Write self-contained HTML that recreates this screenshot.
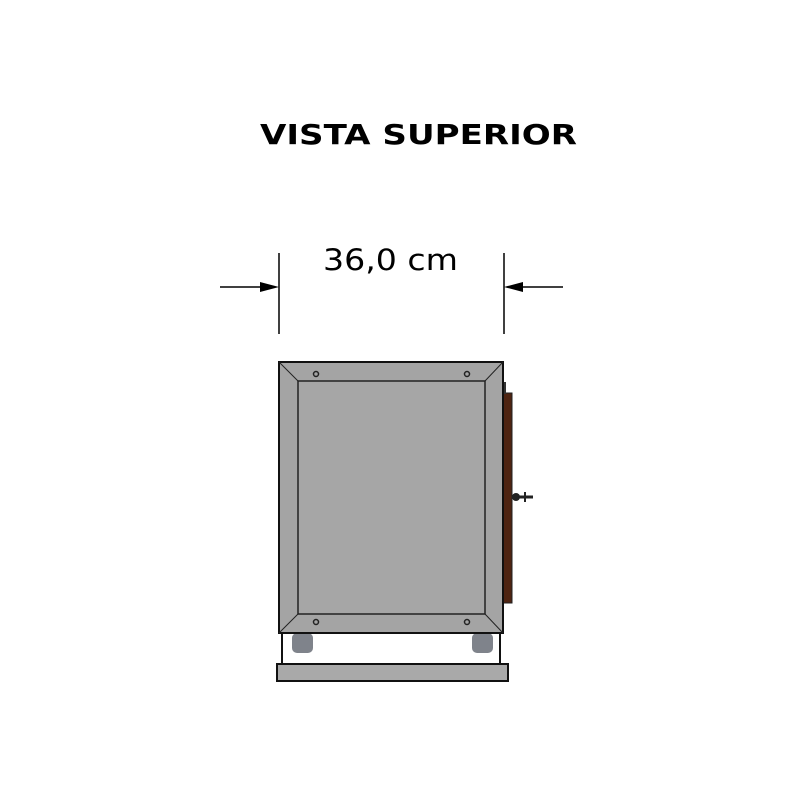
<!DOCTYPE html>
<html><head><style>body{margin:0;background:#fff}</style></head><body>
<svg width="800" height="800" xmlns="http://www.w3.org/2000/svg">
<rect width="800" height="800" fill="#fff"/>
<text x="260" y="144" textLength="317" lengthAdjust="spacingAndGlyphs" font-family="DejaVu Sans, sans-serif" font-weight="bold" font-size="28" fill="#000">VISTA SUPERIOR</text>
<text x="323" y="270" textLength="135" lengthAdjust="spacingAndGlyphs" font-family="DejaVu Sans, sans-serif" font-size="29" fill="#000">36,0 cm</text>
<g stroke="#000" stroke-width="1.5">
<line x1="279" y1="253" x2="279" y2="334"/>
<line x1="504" y1="253" x2="504" y2="334"/>
<line x1="220" y1="287" x2="266" y2="287"/>
<line x1="517" y1="287" x2="563" y2="287"/>
</g>
<polygon points="279,287 260,282 260,292" fill="#000"/>
<polygon points="504,287 523,282 523,292" fill="#000"/>
<rect x="502" y="393" width="10" height="210" fill="#4e2412" stroke="#222" stroke-width="1"/>
<rect x="503" y="382" width="3" height="12" fill="#333"/>
<line x1="512" y1="497" x2="533" y2="497" stroke="#222" stroke-width="3"/>
<circle cx="516" cy="497" r="4" fill="#222"/>
<line x1="525" y1="492" x2="525" y2="502" stroke="#222" stroke-width="2"/>
<line x1="282" y1="633" x2="282" y2="682" stroke="#111" stroke-width="2"/>
<line x1="500" y1="633" x2="500" y2="682" stroke="#111" stroke-width="2"/>
<rect x="292" y="633" width="21" height="20" rx="5" fill="#7f838b"/>
<rect x="472" y="633" width="21" height="20" rx="5" fill="#7f838b"/>
<rect x="277" y="664" width="231" height="17" fill="#a9a9a9" stroke="#111" stroke-width="2"/>
<rect x="279" y="362" width="224" height="271" fill="#a4a4a4" stroke="#111" stroke-width="2"/>
<rect x="298" y="381" width="187" height="233" fill="#a6a6a6" stroke="#222" stroke-width="1.5"/>
<g stroke="#222" stroke-width="1">
<line x1="279" y1="362" x2="298" y2="381"/>
<line x1="503" y1="362" x2="485" y2="381"/>
<line x1="279" y1="633" x2="298" y2="614"/>
<line x1="503" y1="633" x2="485" y2="614"/>
</g>
<g fill="none" stroke="#222" stroke-width="1.5">
<circle cx="316" cy="374" r="2.5"/><circle cx="467" cy="374" r="2.5"/>
<circle cx="316" cy="622" r="2.5"/><circle cx="467" cy="622" r="2.5"/>
</g>
</svg>
</body></html>
